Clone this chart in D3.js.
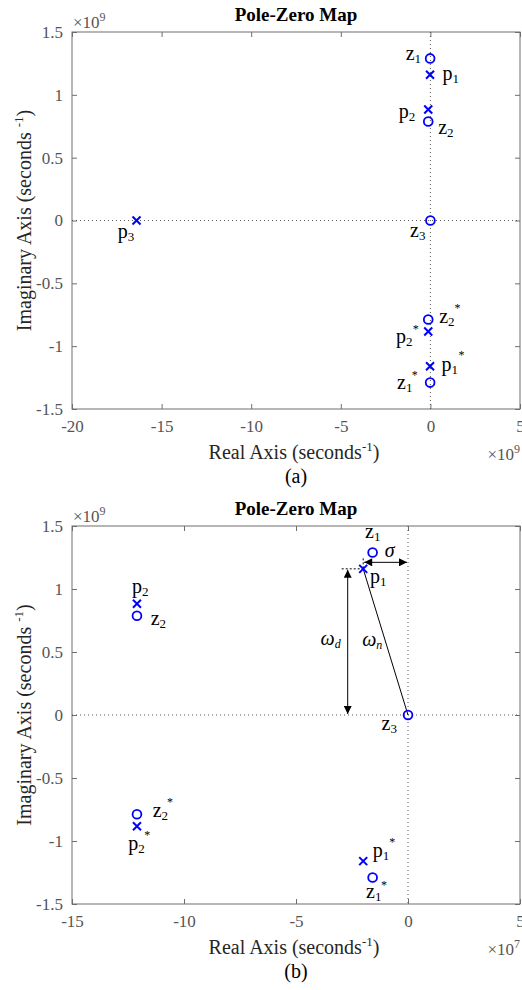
<!DOCTYPE html>
<html>
<head>
<meta charset="utf-8">
<script src="https://cdn.jsdelivr.net/npm/d3@7"></script>
<style>
  html, body { margin: 0; padding: 0; background: #fff; }
  svg { display: block; }
</style>
</head>
<body>
<svg id="chart" width="522" height="990"></svg>
<script>
// ---- data: poles and zeros of the transfer function (seconds^-1) ----
const poleLabels = ["p1", "p2", "p3", "p2*", "p1*"];
const poleReal   = [-2.0e7, -1.21e8, -1.64e10, -1.21e8, -2.0e7];
const poleImag   = [1.16e9, 8.83e8, 0, -8.83e8, -1.16e9];

const zeroLabels = ["z1", "z2", "z3", "z2*", "z1*"];
const zeroReal   = [-1.58e7, -1.21e8, 0, -1.21e8, -1.58e7];
const zeroImag   = [1.29e9, 7.88e8, 0, -7.88e8, -1.29e9];

// axis ticks (in units of the axis multiplier)
const yTicks      = [-1.5, -1, -0.5, 0, 0.5, 1, 1.5];
const xTicksWide  = [-20, -15, -10, -5, 0, 5];
const xTicksZoom  = [-15, -10, -5, 0, 5];

const SERIF = '"Liberation Serif","Times New Roman",serif';
const BLUE = "#0000ff";
const AXIS = "#6e6e6e";
const TICKTXT = "#555555";

const svg = d3.select("#chart");

// arrowhead marker
svg.append("defs").append("marker")
  .attr("id", "arrowHead")
  .attr("viewBox", "0 0 10 10")
  .attr("refX", 10).attr("refY", 5)
  .attr("markerWidth", 9).attr("markerHeight", 8)
  .attr("markerUnits", "userSpaceOnUse")
  .attr("orient", "auto-start-reverse")
  .append("path")
  .attr("d", "M0,0 L10,5 L0,10 Z")
  .attr("fill", "#000");

const points = [];
poleLabels.forEach((name, i) => points.push({ kind: "pole", name, re: poleReal[i], im: poleImag[i] }));
zeroLabels.forEach((name, i) => points.push({ kind: "zero", name, re: zeroReal[i], im: zeroImag[i] }));

// label placement around each marker: offset of the text, anchor, optional asterisk offset
const layoutWide = {
  "z1":  { dx: -9,    dy: 1.5,  anchor: "end" },
  "p1":  { dx: 12.4,  dy: 5.5,  anchor: "start" },
  "p2":  { dx: -13,   dy: 8,    anchor: "end" },
  "z2":  { dx: 10,    dy: 12.5, anchor: "start" },
  "z3":  { dx: -5,    dy: 16.5, anchor: "end" },
  "p3":  { dx: -18.7, dy: 17.5, anchor: "start" },
  "z2*": { dx: 11,    dy: 3.5,  anchor: "start", star: [29.2, -7.5] },
  "p2*": { dx: -15.8, dy: 11.5, anchor: "end",   star: [-12.6, 1.5] },
  "p1*": { dx: 11.4,  dy: 4.7,  anchor: "start", star: [31.4, -7.3] },
  "z1*": { dx: -17.7, dy: 6.4,  anchor: "end",   star: [-15.4, -3.6] }
};
const layoutZoom = {
  "z1":  { dx: -7.6,  dy: -14.5, anchor: "start" },
  "p1":  { dx: 6.8,   dy: 14,    anchor: "start" },
  "p2":  { dx: -5,    dy: -10.4, anchor: "start" },
  "z2":  { dx: 13.7,  dy: 9.3,   anchor: "start" },
  "z3":  { dx: -11,   dy: 15,    anchor: "end" },
  "z2*": { dx: 15.7,  dy: 2.4,   anchor: "start", star: [33, -8.3] },
  "p2*": { dx: -8.7,  dy: 23.7,  anchor: "start", star: [10.3, 12.7] },
  "p1*": { dx: 9.5,   dy: -4.5,  anchor: "start", star: [29.1, -15.2] },
  "z1*": { dx: -6.6,  dy: 20.8,  anchor: "start", star: [11.4, 11.5] }
};

function multiplier(g, x, y, exp, anchor) {
  const t = g.append("text")
    .attr("x", x).attr("y", y)
    .attr("text-anchor", anchor)
    .attr("font-family", SERIF).attr("font-size", 17)
    .attr("fill", TICKTXT);
  t.append("tspan").text("\u00d710");
  t.append("tspan").attr("font-size", 12).attr("dy", -7).text(exp);
}

function drawPanel(cfg) {
  const left = 72, right = 520;
  const top = cfg.top, bottom = cfg.top + cfg.height;
  const g = svg.append("g");

  const x = d3.scaleLinear().domain(cfg.xDomain).range([left, right]);
  const y = d3.scaleLinear().domain([-1.5, 1.5]).range([bottom, top]);
  const px = d => x(d.re / cfg.xUnit);
  const py = d => y(d.im / 1e9);

  // axes with inward ticks
  const fmt = d => String(d);
  const styleAxis = sel => {
    sel.selectAll(".domain").remove();
    sel.selectAll(".tick line").attr("stroke", AXIS);
    sel.selectAll(".tick text")
      .attr("font-family", SERIF).attr("font-size", 17).attr("fill", TICKTXT);
  };
  g.append("g").attr("transform", `translate(0,${bottom})`)
    .call(d3.axisBottom(x).tickValues(cfg.xTicks).tickFormat(fmt).tickSizeInner(-5).tickSizeOuter(0).tickPadding(11))
    .call(styleAxis);
  g.append("g").attr("transform", `translate(0,${top})`)
    .call(d3.axisTop(x).tickValues(cfg.xTicks).tickFormat("").tickSizeInner(-5).tickSizeOuter(0))
    .call(styleAxis);
  g.append("g").attr("transform", `translate(${left},0)`)
    .call(d3.axisLeft(y).tickValues(yTicks).tickFormat(fmt).tickSizeInner(-5).tickSizeOuter(0).tickPadding(9))
    .call(styleAxis);
  g.append("g").attr("transform", `translate(${right},0)`)
    .call(d3.axisRight(y).tickValues(yTicks).tickFormat("").tickSizeInner(-5).tickSizeOuter(0))
    .call(styleAxis);
  g.selectAll(".tick text").filter(function () { return this.textContent === ""; }).remove();

  // box
  g.append("rect")
    .attr("x", left).attr("y", top)
    .attr("width", right - left).attr("height", bottom - top)
    .attr("fill", "none").attr("stroke", AXIS).attr("stroke-width", 1);

  // dotted real and imaginary axes
  g.append("line")
    .attr("x1", left).attr("x2", right).attr("y1", y(0)).attr("y2", y(0))
    .attr("stroke", "#555").attr("stroke-width", 1).attr("stroke-dasharray", "1,3");
  g.append("line")
    .attr("x1", x(0)).attr("x2", x(0)).attr("y1", top).attr("y2", bottom)
    .attr("stroke", "#555").attr("stroke-width", 1).attr("stroke-dasharray", "1,3");

  // title and multipliers
  g.append("text")
    .attr("x", (left + right) / 2).attr("y", top - 11)
    .attr("text-anchor", "middle")
    .attr("font-family", SERIF).attr("font-size", 19).attr("font-weight", "bold")
    .attr("fill", "#000").text("Pole-Zero Map");
  multiplier(g, left + 1, top - 4, "9", "start");
  multiplier(g, right, bottom + 51, cfg.xExp, "end");

  // axis labels
  const xl = g.append("text")
    .attr("x", (left + right) / 2 - 2).attr("y", bottom + 50)
    .attr("text-anchor", "middle")
    .attr("font-family", SERIF).attr("font-size", 20).attr("fill", "#262626");
  xl.append("tspan").text("Real Axis (seconds");
  xl.append("tspan").attr("font-size", 13).attr("dy", -8).text("-1");
  xl.append("tspan").attr("dy", 8).text(")");

  const yl = g.append("text")
    .attr("transform", `translate(31,${(top + bottom) / 2}) rotate(-90)`)
    .attr("text-anchor", "middle")
    .attr("font-family", SERIF).attr("font-size", 20).attr("fill", "#262626");
  yl.append("tspan").text("Imaginary Axis (seconds ");
  yl.append("tspan").attr("font-size", 13).attr("dy", -8).text("-1");
  yl.append("tspan").attr("dy", 8).text(")");

  g.append("text")
    .attr("x", (left + right) / 2).attr("y", bottom + 74)
    .attr("text-anchor", "middle")
    .attr("font-family", SERIF).attr("font-size", 20).attr("fill", "#000")
    .text(cfg.caption);

  // annotations (drawn below the markers)
  if (cfg.annotate) cfg.annotate(g, x, y, px, py);

  // markers
  const visible = points.filter(d => {
    const vx = d.re / cfg.xUnit, vy = d.im / 1e9;
    return vx >= cfg.xDomain[0] && vx <= cfg.xDomain[1] && vy >= -1.5 && vy <= 1.5;
  });
  const s = 4;
  visible.filter(d => d.kind === "pole").forEach(d => {
    const cx = px(d), cy = py(d);
    g.append("path")
      .attr("d", `M${cx - s},${cy - s}L${cx + s},${cy + s}M${cx - s},${cy + s}L${cx + s},${cy - s}`)
      .attr("stroke", BLUE).attr("stroke-width", 2).attr("fill", "none");
  });
  visible.filter(d => d.kind === "zero").forEach(d => {
    g.append("circle")
      .attr("cx", px(d)).attr("cy", py(d)).attr("r", 4.4)
      .attr("fill", "none").attr("stroke", BLUE).attr("stroke-width", 1.8);
  });

  // marker labels: letter, subscript index, optional conjugate asterisk
  visible.forEach(d => {
    const L = cfg.layout[d.name];
    if (!L) return;
    const cx = px(d), cy = py(d);
    const t = g.append("text")
      .attr("x", cx + L.dx).attr("y", cy + L.dy)
      .attr("text-anchor", L.anchor)
      .attr("font-family", SERIF).attr("font-size", 20).attr("fill", "#000");
    t.append("tspan").text(d.name[0]);
    t.append("tspan").attr("font-size", 13).attr("dy", 3).text(d.name[1]);
    if (d.name.endsWith("*") && L.star) {
      g.append("text")
        .attr("x", cx + L.star[0]).attr("y", cy + L.star[1])
        .attr("text-anchor", "middle")
        .attr("font-family", SERIF).attr("font-size", 12).attr("fill", "#000")
        .text("*");
    }
  });
}

// ---- panel (a): full view ----
drawPanel({
  top: 32, height: 377,
  xDomain: [-20, 5], xUnit: 1e9, xExp: "9", xTicks: xTicksWide,
  caption: "(a)", layout: layoutWide
});

// ---- panel (b): close-up near the imaginary axis, with sigma / omega construction ----
drawPanel({
  top: 526, height: 378,
  xDomain: [-15, 5], xUnit: 1e7, xExp: "7", xTicks: xTicksZoom,
  caption: "(b)", layout: layoutZoom,
  annotate: (g, x, y, px, py) => {
    const p1 = points.find(d => d.name === "p1");
    const z3 = points.find(d => d.name === "z3");
    const P = [px(p1), py(p1)], Z = [px(z3), py(z3)];
    const black = { stroke: "#000", "stroke-width": 1 };
    const line = (x1, y1, x2, y2) => {
      const l = g.append("line").attr("x1", x1).attr("y1", y1).attr("x2", x2).attr("y2", y2);
      Object.entries(black).forEach(([k, v]) => l.attr(k, v));
      return l;
    };
    // sigma: horizontal distance from p1 to the imaginary axis
    const sy = P[1] - 6.5;
    line(P[0] + 1, sy, Z[0] - 1, sy)
      .attr("marker-start", "url(#arrowHead)").attr("marker-end", "url(#arrowHead)");
    line(P[0], sy - 4, P[0], P[1]).attr("stroke-dasharray", "2,2");
    // omega_d: vertical distance from p1 to the real axis
    const ax = P[0] - 15.5;
    line(ax - 6, P[1], P[0], P[1]).attr("stroke-dasharray", "2,2");
    line(ax, P[1] + 1, ax, Z[1] - 1)
      .attr("marker-start", "url(#arrowHead)").attr("marker-end", "url(#arrowHead)");
    // omega_n: radius from the origin to p1
    line(P[0], P[1], Z[0], Z[1]);

    const ital = (xx, yy, main, sub, anchor) => {
      const t = g.append("text").attr("x", xx).attr("y", yy)
        .attr("text-anchor", anchor)
        .attr("font-family", SERIF).attr("font-size", 20).attr("font-style", "italic")
        .attr("fill", "#000");
      t.append("tspan").text(main);
      if (sub) t.append("tspan").attr("font-size", 12).attr("dy", 3).text(sub);
    };
    ital((P[0] + Z[0]) / 2 + 4, sy - 5, "\u03c3", null, "middle");
    ital(ax - 7, (P[1] + Z[1]) / 2 + 3, "\u03c9", "d", "end");
    ital(P[0] - 1, (P[1] + Z[1]) / 2 + 4, "\u03c9", "n", "start");
  }
});
</script>
</body>
</html>
